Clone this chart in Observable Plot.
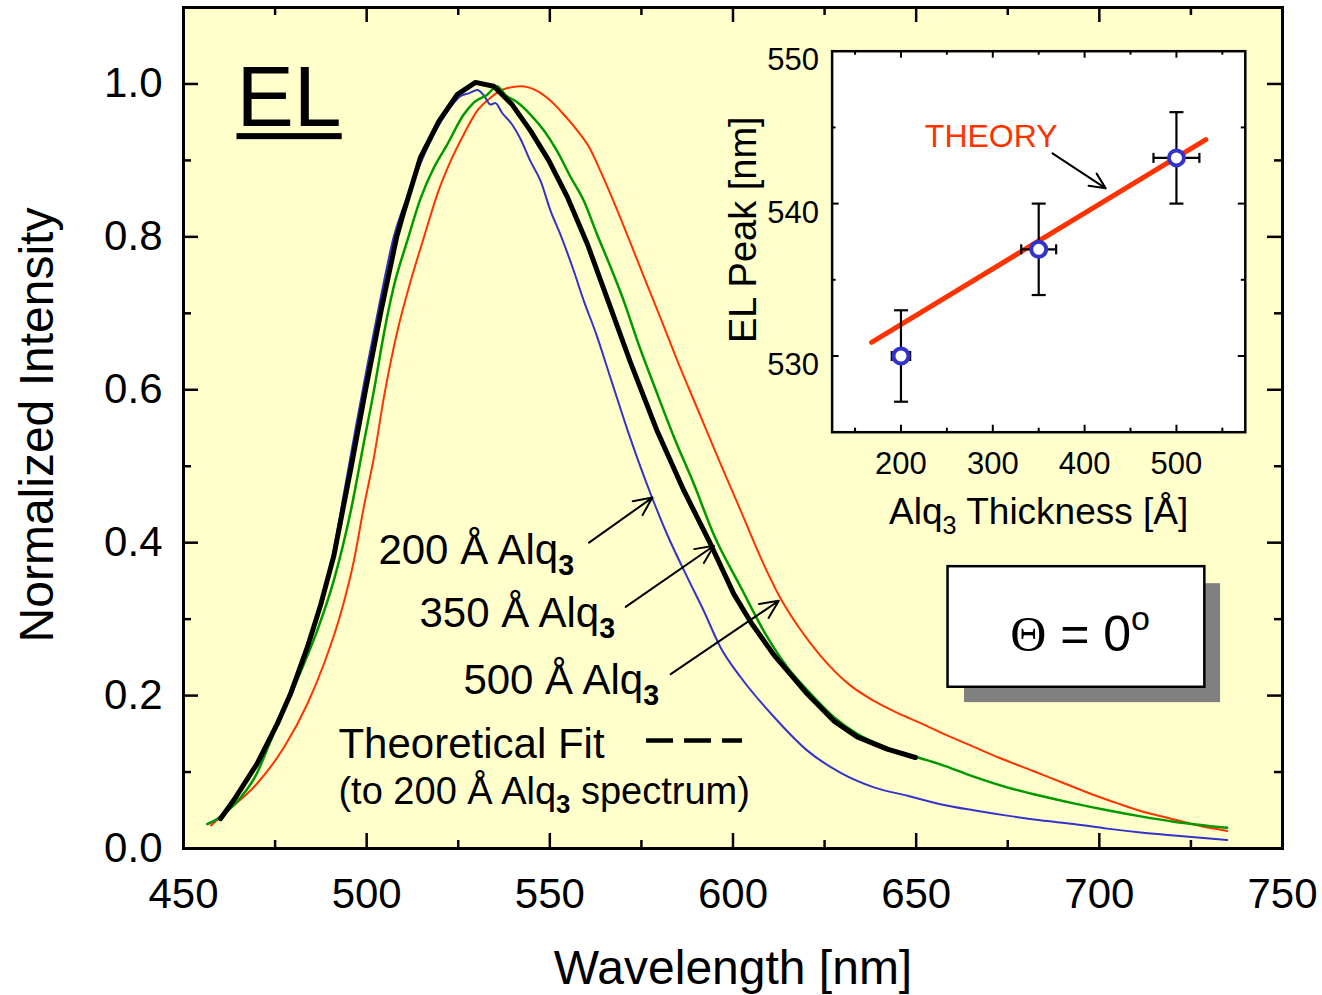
<!DOCTYPE html>
<html>
<head>
<meta charset="utf-8">
<script src="https://cdn.jsdelivr.net/npm/d3@7"></script>
<script src="https://cdn.jsdelivr.net/npm/@observablehq/plot@0.6"></script>
<style>
  html, body { margin: 0; padding: 0; background: #ffffff; }
  #wrap { position: relative; width: 1322px; height: 995px; }
  #wrap svg { position: absolute; }
</style>
</head>
<body>
<div id="wrap"></div>
<script>
// ---------------- data: main EL spectra ----------------
const wl200 = [456.5, 460, 463.7, 470, 475.6, 479.2, 483.8, 487.4, 491, 494, 497, 500.2, 503.8, 507.4, 511.9, 517.4, 521.5, 525.6, 528, 530.2, 532, 533.8, 535.1, 537, 539.7, 542, 544.7, 547.5, 550.2, 552.9, 556.5, 559.3, 562.5, 566.8, 571.3, 577.5, 582, 587.5, 592, 596.6, 602.1, 611.2, 620.3, 629.4, 638.5, 647.6, 656.6, 665.7, 674.8, 683.9, 693, 702.2, 711.3, 720.4, 734.9];
const int200 = [0.032, 0.042, 0.064, 0.113, 0.166, 0.206, 0.268, 0.321, 0.39, 0.47, 0.55, 0.632, 0.72, 0.80, 0.862, 0.925, 0.960, 0.984, 0.988, 0.992, 0.985, 0.973, 0.975, 0.962, 0.947, 0.928, 0.899, 0.873, 0.834, 0.803, 0.756, 0.716, 0.675, 0.612, 0.546, 0.464, 0.411, 0.355, 0.311, 0.263, 0.224, 0.172, 0.128, 0.099, 0.080, 0.069, 0.058, 0.050, 0.043, 0.037, 0.032, 0.026, 0.021, 0.017, 0.011];

const wl350 = [456.5, 460, 464, 470, 473.8, 481, 486.5, 491, 495.6, 499.2, 502.4, 504, 507.4, 511.1, 514.7, 518.3, 521.9, 526.5, 529.3, 532.9, 535.6, 538, 541.1, 544.7, 548.4, 552, 555.7, 559.3, 562.9, 566.2, 570.2, 573.9, 578.9, 583.9, 589.3, 594.8, 602.1, 609.3, 615, 620.3, 627.5, 633.9, 642.1, 649.8, 656.6, 665.7, 674.8, 683.9, 693, 702.2, 711.3, 720.4, 734.9];
const int350 = [0.032, 0.041, 0.058, 0.098, 0.141, 0.220, 0.285, 0.350, 0.44, 0.53, 0.61, 0.655, 0.735, 0.795, 0.850, 0.890, 0.920, 0.960, 0.976, 0.986, 0.997, 0.985, 0.976, 0.960, 0.939, 0.912, 0.878, 0.847, 0.803, 0.765, 0.716, 0.664, 0.600, 0.538, 0.477, 0.410, 0.342, 0.277, 0.236, 0.207, 0.172, 0.150, 0.132, 0.120, 0.110, 0.094, 0.080, 0.069, 0.059, 0.050, 0.042, 0.035, 0.027];

const wl500 = [457.5, 461, 470.1, 477.4, 483.8, 488.3, 492.9, 496.5, 499.2, 502, 504.7, 508.3, 512, 515.6, 519.3, 522.9, 526.5, 530.2, 533.8, 537.4, 542, 546.5, 550.2, 553.8, 557.5, 561, 564, 567, 570, 573, 576.5, 580.2, 584.8, 591.1, 596.6, 602.1, 607.5, 613, 618, 623.9, 632.1, 638.5, 645, 651.2, 658, 665.7, 673, 682.1, 690, 698.5, 705, 711.3, 720.4, 727, 734.9];
const int500 = [0.030, 0.045, 0.085, 0.132, 0.189, 0.241, 0.307, 0.376, 0.446, 0.512, 0.590, 0.675, 0.742, 0.799, 0.856, 0.899, 0.934, 0.965, 0.982, 0.993, 0.997, 0.991, 0.978, 0.960, 0.939, 0.915, 0.884, 0.851, 0.816, 0.780, 0.738, 0.694, 0.638, 0.566, 0.503, 0.442, 0.381, 0.327, 0.289, 0.252, 0.213, 0.193, 0.177, 0.164, 0.149, 0.133, 0.118, 0.101, 0.086, 0.070, 0.059, 0.049, 0.038, 0.030, 0.023];

const wlFit = [460.1, 463.7, 470.1, 475.6, 479.2, 483.8, 487.4, 491, 495.8, 499.7, 504, 508.2, 510.1, 514.7, 519.7, 524.7, 529.7, 534.7, 539.7, 544.7, 549.7, 554.8, 560.3, 566, 572, 579.3, 586.6, 593.9, 600.2, 605, 611.2, 616, 620.3, 627.5, 633.9, 642.1, 649.8];
const intFit = [0.039, 0.063, 0.111, 0.163, 0.202, 0.263, 0.318, 0.382, 0.50, 0.60, 0.705, 0.80, 0.832, 0.904, 0.951, 0.986, 1.002, 0.997, 0.973, 0.939, 0.900, 0.852, 0.790, 0.715, 0.636, 0.546, 0.468, 0.398, 0.333, 0.295, 0.253, 0.226, 0.202, 0.167, 0.146, 0.130, 0.119];

// tick values
const xTickLabels = [450, 500, 550, 600, 650, 700, 750];
const xMajorInner = [500, 550, 600, 650, 700];
const xMinor = [475, 525, 575, 625, 675, 725];
const yTickLabels = [0, 0.2, 0.4, 0.6, 0.8, 1.0];
const yMajorInner = [0.2, 0.4, 0.6, 0.8, 1.0];
const yMinor = [0.1, 0.3, 0.5, 0.7, 0.9];

// annotations (data coordinates)
const seriesLabels = ["200 Å Alq₃", "350 Å Alq₃", "500 Å Alq₃"];
const labelX = [503.2, 514.4, 526.4];
const labelY = [0.3725, 0.2893, 0.2026];
const arrowX1 = [560.7, 570.7, 583.0];
const arrowY1 = [0.400, 0.316, 0.228];
const arrowX2 = [578.0, 594.8, 612.5];
const arrowY2 = [0.459, 0.396, 0.324];
const fitLabel = "Theoretical Fit";
const fitNote = "(to 200 Å Alq₃ spectrum)";
const fitLabelX = 492.3, fitLabelY = 0.119, fitNoteY = 0.0588;
const fitDashX = [576.4, 602.6], fitDashY = 0.1412;
const thetaText = "Θ = 0º";
const thetaBox = {x1: 658.7, x2: 728.8, y1: 0.2109, y2: 0.3686};
const thetaShadow = {x1: 663.2, x2: 733.1, y1: 0.1908, y2: 0.3464};

// ---------------- data: inset ----------------
const thickness = [200, 350, 500];
const elPeak = [530, 537, 543];
const peakErr = [3, 3, 3];
const thickErr = [10, 19, 25];
const theoryX = [168, 532];
const theoryY = [530.9, 544.2];
const insetXLabels = [200, 300, 400, 500];
const insetXMinor = [150, 250, 350, 450, 550];
const insetYLabels = [530, 540, 550];
const insetYMajorInner = [530, 540];
const insetYMinor = [535, 545];
const theoryLabel = "THEORY";
const theoryLabelPos = {x: 226, y: 544.4};
const theoryArrow = {x1: 365, y1: 543.3, x2: 423, y2: 541.0};

// ---------------- build ----------------
const FONT = "Liberation Sans, Arial, Helvetica, sans-serif";
const toRows = (xs, ys) => xs.map((x, i) => ({x, y: ys[i]}));
const s200 = toRows(wl200, int200), s350 = toRows(wl350, int350), s500 = toRows(wl500, int500), sFit = toRows(wlFit, intFit);

const W = 1322, H = 995;
const mL = 183, mR = 40, mT = 7, mB = 147;
const pw = W - mL - mR, ph = H - mT - mB;

const labelRows = seriesLabels.map((t, i) => ({t, x: labelX[i], y: labelY[i]}));
const arrowRows = arrowX1.map((x1, i) => ({x1, y1: arrowY1[i], x2: arrowX2[i], y2: arrowY2[i]}));

const main = Plot.plot({
  width: W, height: H,
  marginLeft: mL, marginRight: mR, marginTop: mT, marginBottom: mB,
  x: {domain: [450, 750]},
  y: {domain: [0, 1.1]},
  style: {background: "transparent", fontFamily: FONT, color: "black", overflow: "visible"},
  marks: [
    Plot.frame({fill: "#ffffcc"}),
    // inward ticks
    Plot.tickX(xMajorInner, {x: d => d, insetTop: ph - 15, strokeWidth: 2.5}),
    Plot.tickX(xMajorInner, {x: d => d, insetBottom: ph - 15, strokeWidth: 2.5}),
    Plot.tickX(xMinor, {x: d => d, insetTop: ph - 8, strokeWidth: 2.5}),
    Plot.tickX(xMinor, {x: d => d, insetBottom: ph - 8, strokeWidth: 2.5}),
    Plot.tickY(yMajorInner, {y: d => d, insetRight: pw - 15, strokeWidth: 2.5}),
    Plot.tickY(yMajorInner, {y: d => d, insetLeft: pw - 15, strokeWidth: 2.5}),
    Plot.tickY(yMinor, {y: d => d, insetRight: pw - 8, strokeWidth: 2.5}),
    Plot.tickY(yMinor, {y: d => d, insetLeft: pw - 8, strokeWidth: 2.5}),
    // tick labels
    Plot.axisX({ticks: xTickLabels, tickSize: 0, tickPadding: 30, fontSize: 42, tickFormat: d => String(d), label: null}),
    Plot.axisY({ticks: yTickLabels, tickSize: 0, tickPadding: 21, fontSize: 42, tickFormat: d3.format(".1f"), label: null}),
    // axis titles
    Plot.text(["Wavelength [nm]"], {frameAnchor: "bottom", dy: 120, fontSize: 48, textAnchor: "middle", lineAnchor: "middle"}),
    Plot.text(["Normalized Intensity"], {frameAnchor: "left", dx: -146, dy: -3, rotate: -90, fontSize: 48, textAnchor: "middle", lineAnchor: "middle"}),
    // spectra
    Plot.line(s500, {x: "x", y: "y", stroke: "#ff3300", strokeWidth: 2, curve: "monotone-x"}),
    Plot.line(s200, {x: "x", y: "y", stroke: "#3333cc", strokeWidth: 2, curve: "monotone-x"}),
    Plot.line(s350, {x: "x", y: "y", stroke: "#009900", strokeWidth: 2.5, curve: "monotone-x"}),
    Plot.line(sFit, {x: "x", y: "y", stroke: "black", strokeWidth: 5, strokeLinejoin: "round"}),
    // EL title (underline added below)
    Plot.text(["EL"], {frameAnchor: "top-left", dx: 53, dy: 57, fontSize: 86, textAnchor: "start", lineAnchor: "top"}),
    // series labels & arrows
    Plot.text(labelRows, {x: "x", y: "y", text: "t", fontSize: 42, textAnchor: "start", lineAnchor: "bottom"}),
    Plot.arrow(arrowRows, {x1: "x1", y1: "y1", x2: "x2", y2: "y2", stroke: "black", strokeWidth: 2, headLength: 15, headAngle: 50}),
    Plot.text([fitLabel], {x: fitLabelX, y: fitLabelY, fontSize: 42, textAnchor: "start", lineAnchor: "bottom"}),
    Plot.text([fitNote], {x: fitLabelX, y: fitNoteY, fontSize: 38, textAnchor: "start", lineAnchor: "bottom"}),
    Plot.ruleY([fitDashY], {x1: fitDashX[0], x2: fitDashX[1], y: d => d, stroke: "black", strokeWidth: 4.5, strokeDasharray: "27,11"}),
    // theta box
    Plot.rect([thetaShadow], {x1: "x1", x2: "x2", y1: "y1", y2: "y2", fill: "#808080"}),
    Plot.rect([thetaBox], {x1: "x1", x2: "x2", y1: "y1", y2: "y2", fill: "white", stroke: "black", strokeWidth: 2.5}),
    Plot.text([thetaText], {x: (thetaBox.x1 + thetaBox.x2) / 2 + 1, y: 0.279, fontSize: 50, textAnchor: "middle", lineAnchor: "middle"}),
    Plot.frame({stroke: "black", strokeWidth: 3})
  ]
});

// inset
const IW = 560, IH = 540, iL = 131.6, iR = 15.2, iT = 50.7, iB = 108.3;
const ipw = IW - iL - iR, iph = IH - iT - iB;
const insetRows = thickness.map((t, i) => ({t, p: elPeak[i], ey: peakErr[i], ex: thickErr[i]}));
const theoryRows = theoryX.map((x, i) => ({x, y: theoryY[i]}));
const hbar = {draw(ctx, size) { const r = Math.sqrt(size / Math.PI); ctx.moveTo(-r, 0); ctx.lineTo(r, 0); }};
const vbar = {draw(ctx, size) { const r = Math.sqrt(size / Math.PI); ctx.moveTo(0, -r); ctx.lineTo(0, r); }};

const inset = Plot.plot({
  width: IW, height: IH,
  marginLeft: iL, marginRight: iR, marginTop: iT, marginBottom: iB,
  x: {domain: [125, 575]},
  y: {domain: [525, 550]},
  style: {background: "transparent", fontFamily: FONT, color: "black", overflow: "visible"},
  marks: [
    Plot.frame({fill: "white"}),
    Plot.tickX(insetXLabels, {x: d => d, insetTop: iph - 7, strokeWidth: 2}),
    Plot.tickX(insetXLabels, {x: d => d, insetBottom: iph - 7, strokeWidth: 2}),
    Plot.tickX(insetXMinor, {x: d => d, insetTop: iph - 4, strokeWidth: 2}),
    Plot.tickX(insetXMinor, {x: d => d, insetBottom: iph - 4, strokeWidth: 2}),
    Plot.tickY(insetYMajorInner, {y: d => d, insetRight: ipw - 7, strokeWidth: 2}),
    Plot.tickY(insetYMajorInner, {y: d => d, insetLeft: ipw - 7, strokeWidth: 2}),
    Plot.tickY(insetYMinor, {y: d => d, insetRight: ipw - 4, strokeWidth: 2}),
    Plot.tickY(insetYMinor, {y: d => d, insetLeft: ipw - 4, strokeWidth: 2}),
    Plot.axisX({ticks: insetXLabels, tickSize: 0, tickPadding: 20, fontSize: 31, tickFormat: d => String(d), label: null}),
    Plot.axisY({ticks: insetYLabels, tickSize: 0, tickPadding: 13, fontSize: 31, dy: 9, tickFormat: d => String(d), label: null}),
    Plot.text(["Alq₃ Thickness [Å]"], {frameAnchor: "bottom", dy: 80, fontSize: 37, textAnchor: "middle", lineAnchor: "middle"}),
    Plot.text(["EL Peak [nm]"], {frameAnchor: "left", dx: -88, dy: -12, rotate: -90, fontSize: 38, textAnchor: "middle", lineAnchor: "middle"}),
    Plot.line(theoryRows, {x: "x", y: "y", stroke: "#ff3300", strokeWidth: 5}),
    Plot.ruleX(insetRows, {x: "t", y1: d => d.p - d.ey, y2: d => d.p + d.ey, stroke: "black", strokeWidth: 2.2}),
    Plot.ruleY(insetRows, {y: "p", x1: d => d.t - d.ex, x2: d => d.t + d.ex, stroke: "black", strokeWidth: 2.2}),
    Plot.dot(insetRows, {x: "t", y: d => d.p + d.ey, symbol: hbar, r: 7, fill: "none", stroke: "black", strokeWidth: 2.2}),
    Plot.dot(insetRows, {x: "t", y: d => d.p - d.ey, symbol: hbar, r: 7, fill: "none", stroke: "black", strokeWidth: 2.2}),
    Plot.dot(insetRows, {x: d => d.t + d.ex, y: "p", symbol: vbar, r: 5, fill: "none", stroke: "black", strokeWidth: 2.2}),
    Plot.dot(insetRows, {x: d => d.t - d.ex, y: "p", symbol: vbar, r: 5, fill: "none", stroke: "black", strokeWidth: 2.2}),
    Plot.dot(insetRows, {x: "t", y: "p", r: 7.5, fill: "white", stroke: "#3333cc", strokeWidth: 4}),
    Plot.text([theoryLabel], {x: theoryLabelPos.x, y: theoryLabelPos.y, fill: "#ff3300", fontSize: 32, textAnchor: "start", lineAnchor: "middle"}),
    Plot.arrow([theoryArrow], {x1: "x1", y1: "y1", x2: "x2", y2: "y2", stroke: "black", strokeWidth: 2, headLength: 13, headAngle: 50}),
    Plot.frame({stroke: "black", strokeWidth: 2.5})
  ]
});

const wrap = document.getElementById("wrap");
main.style.left = "0px"; main.style.top = "0px";
inset.style.left = "700px"; inset.style.top = "0px";
wrap.appendChild(main);
wrap.appendChild(inset);

const NS = "http://www.w3.org/2000/svg";
// rich text: subscripts, superscripts and serif theta
function richify(svg, boldSub) {
  for (const t of svg.querySelectorAll("text")) {
    const s = t.textContent;
    if (!/[₃ºΘ]/.test(s)) continue;
    const fs = parseFloat(getComputedStyle(t).fontSize) || 40;
    while (t.firstChild) t.removeChild(t.firstChild);
    let shift = 0;
    for (const p of s.split(/([₃ºΘ])/).filter(p => p)) {
      const ts = document.createElementNS(NS, "tspan");
      let target = 0;
      if (p === "₃") {
        ts.textContent = "3";
        ts.setAttribute("font-size", (fs * 0.68).toFixed(1));
        if (boldSub) ts.setAttribute("font-weight", "bold");
        target = fs * 0.26;
      } else if (p === "º") {
        ts.textContent = "o";
        ts.setAttribute("font-size", (fs * 0.68).toFixed(1));
        target = -fs * 0.42;
      } else if (p === "Θ") {
        ts.textContent = "Θ";
        ts.style.fontFamily = "'Liberation Serif', 'DejaVu Serif', serif";
      } else {
        ts.textContent = p;
      }
      if (target !== shift) { ts.setAttribute("dy", (target - shift).toFixed(1)); shift = target; }
      t.appendChild(ts);
    }
  }
}
richify(main, true);
richify(inset, false);

// underline under the "EL" title, sized from the text itself
for (const t of main.querySelectorAll("text")) {
  if (t.textContent !== "EL") continue;
  const b = t.getBBox();
  const fs = parseFloat(getComputedStyle(t).fontSize);
  const baseline = b.y + 0.905 * fs;
  const r = document.createElementNS(NS, "rect");
  r.setAttribute("x", b.x);
  r.setAttribute("width", b.width);
  r.setAttribute("y", baseline + 0.09 * fs);
  r.setAttribute("height", 0.07 * fs);
  r.setAttribute("fill", "black");
  if (t.getAttribute("transform")) r.setAttribute("transform", t.getAttribute("transform"));
  t.parentNode.appendChild(r);
}
</script>
</body>
</html>
